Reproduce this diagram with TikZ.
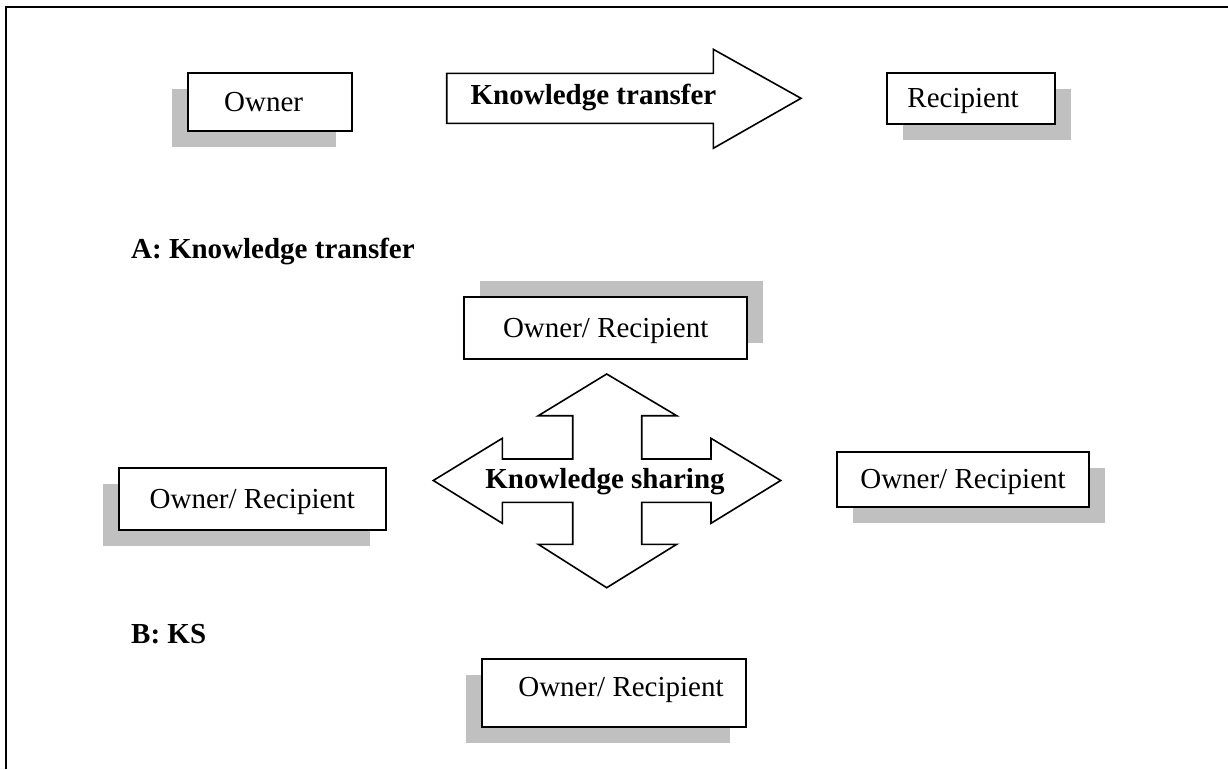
\documentclass[tikz,border=0pt]{standalone}
\usepackage{fontspec}
\setmainfont{Liberation Serif}
\usetikzlibrary{shadows}
\definecolor{shadowgray}{HTML}{C0C0C0}
\begin{document}
\begin{tikzpicture}[x=1pt,y=-1pt,
  namebox/.style={draw, line width=2pt, fill=white, inner sep=0pt,
    font=\fontsize{29}{34}\selectfont, text height=19pt, text depth=0pt},
  shadeBL/.style={drop shadow={shadow xshift=-16pt, shadow yshift=-16pt, fill=shadowgray, opacity=1}},
  shadeBR/.style={drop shadow={shadow xshift=16pt, shadow yshift=-16pt, fill=shadowgray, opacity=1}},
  shadeTR/.style={drop shadow={shadow xshift=16pt, shadow yshift=16pt, fill=shadowgray, opacity=1}},
  arrowbody/.style={draw, line width=1.6pt, fill=white, line join=miter},
  arrowtext/.style={inner sep=0pt, font=\fontsize{29}{34}\selectfont\bfseries,
    text height=19pt, text depth=0pt},
  heading/.style={anchor=base west, inner sep=0pt, font=\fontsize{29}{34}\selectfont\bfseries}
]
\useasboundingbox (0,0) rectangle (1228,769);

% open frame: top and left rules
\draw[line width=2.6pt] (6,769) -- (6,7) -- (1228,7);

% --- A: knowledge transfer ---
\node[namebox, shadeBL, minimum width=164pt, minimum height=58pt] (owner) at (269.7,101.5) {\hspace*{-12pt}Owner};
\node[namebox, shadeBR, minimum width=168.6pt, minimum height=51.3pt] (recipient) at (971,98.3) {\hspace*{-16pt}Recipient};

\draw[arrowbody] (446.7,73.3) -- (713.3,73.3) -- (713.3,49.3) -- (801,98.3)
  -- (713.3,148.3) -- (713.3,123.3) -- (446.7,123.3) -- cycle;
\node[arrowtext] (transfer) at (593.5,95) {Knowledge transfer};

\node[heading] (capA) at (131,258) {A: Knowledge transfer};

% --- B: knowledge sharing ---
\node[namebox, shadeTR, minimum width=283.3pt, minimum height=62.3pt] (orTop) at (605.7,327.8) {Owner/ Recipient};
\node[namebox, shadeBL, minimum width=266.7pt, minimum height=62pt] (orLeft) at (252.3,499.3) {Owner/ Recipient};
\node[namebox, shadeBR, minimum width=252.6pt, minimum height=55pt] (orRight) at (963,479.2) {Owner/ Recipient};
\node[namebox, shadeBL, minimum width=264pt, minimum height=68.3pt, text depth=12pt] (orBottom) at (614,693.2) {\hspace*{14pt}Owner/ Recipient};

\draw[arrowbody] (606.7,374) -- (676.7,415.7) -- (641.7,415.7) -- (641.7,459)
  -- (711,459) -- (711,438.3) -- (780.7,480.5) -- (711,523.3) -- (711,502.3)
  -- (641.7,502.3) -- (641.7,544.3) -- (676.7,544.3) -- (606.7,587.7)
  -- (538.3,544.3) -- (572.7,544.3) -- (572.7,502.3) -- (502.3,502.3)
  -- (502.3,523.3) -- (433.3,480.5) -- (502.3,438.3) -- (502.3,459)
  -- (572.7,459) -- (572.7,415.7) -- (538.3,415.7) -- cycle;
\node[arrowtext] (sharing) at (605,479) {Knowledge sharing};

\node[heading] (capB) at (131,643) {B: KS};
\end{tikzpicture}
\end{document}
